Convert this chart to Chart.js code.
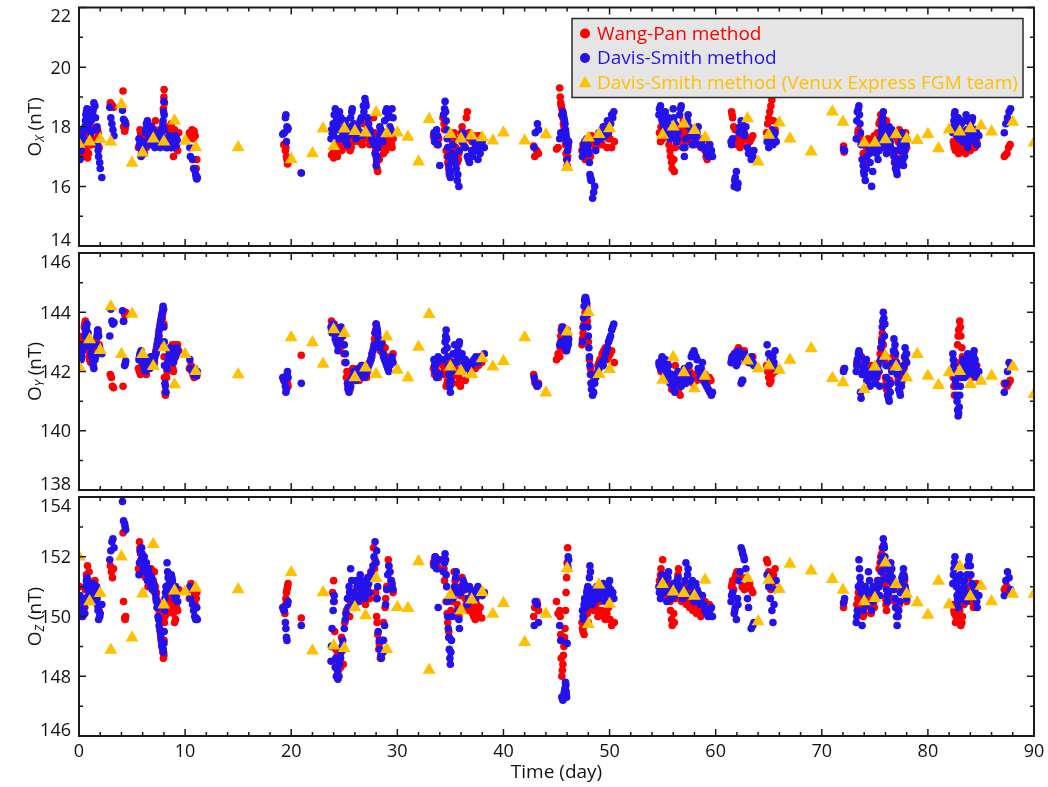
<!DOCTYPE html>
<html>
<head>
<meta charset="utf-8">
<title>Venus Express magnetometer offsets</title>
<script src="https://cdn.jsdelivr.net/npm/chart.js@4.4.1/dist/chart.umd.min.js"></script>
<style>
    html, body { margin: 0; padding: 0; background: #fff; }
    #wrap { position: relative; width: 1048px; height: 787px; }
    #wrap canvas { position: absolute; left: 0; top: 0; }
</style>
</head>
<body>
<div id="wrap">
    <canvas id="oxChart" width="1048" height="787"></canvas>
    <canvas id="oyChart" width="1048" height="787"></canvas>
    <canvas id="ozChart" width="1048" height="787"></canvas>
</div>
<script>
// ================= AXES =================
const xLabels = [0, 10, 20, 30, 40, 50, 60, 70, 80, 90];
const xMinorStep = 2;
const oxTicks = [14, 16, 18, 20, 22];
const oyTicks = [138, 140, 142, 144, 146];
const ozTicks = [146, 148, 150, 152, 154];

const seriesNames = [
    "Wang-Pan method",
    "Davis-Smith method",
    "Davis-Smith method (Venux Express FGM team)",
];
const seriesColors = ["#ff0000", "#2412ee", "#ffc000"];

// ================= WANG-PAN =================
const wpDay = [
    0.05, 0.15, 0.25, 0.35, 0.5, 0.6, 0.7, 0.8, 0.9, 1.0, 1.1, 1.2, 1.5, 1.65, 1.8, 1.9,
    2.95, 3.05, 3.15, 3.25,
    4.15, 4.2, 4.3, 4.35, 4.4,
    5.6, 5.7, 5.8, 5.9, 6.0, 6.1, 6.2, 6.3, 6.4, 6.5, 6.6, 6.7, 6.8, 6.9, 7.0, 7.1, 7.2, 7.3, 7.4, 7.5,
    7.6, 7.7, 7.8, 7.9, 7.95, 8.0, 8.02, 8.05, 8.1, 8.15, 8.3, 8.4, 8.5, 8.6, 8.7, 8.8, 8.9, 9.0, 9.2, 9.4,
    10.4, 10.55, 10.65, 10.75, 10.85, 10.95, 11.05, 11.1,
    19.3, 19.4, 19.45, 19.5, 19.55, 19.6, 19.65, 19.7,
    20.95,
    23.8, 23.9, 24.0, 24.1, 24.2, 24.3, 24.45, 24.6, 24.75, 24.9, 25.05, 25.2, 25.35, 25.5, 25.65, 25.8, 26.0, 26.2, 26.4, 26.6,
    26.8, 27.0, 27.2, 27.4, 27.6, 27.75, 27.85, 27.95, 28.05, 28.15, 28.25, 28.4, 28.55, 28.7, 28.85, 29.0, 29.15, 29.3, 29.45, 29.6,
    33.4, 33.5, 33.6, 33.75, 33.9, 34.3, 34.45, 34.6, 34.75, 34.9, 35.05, 35.2, 35.35, 35.5, 35.65,
    35.8, 35.95, 36.1, 36.25, 36.4, 36.6, 36.75, 36.9, 37.05, 37.2, 37.35, 37.5, 37.65, 37.8, 37.95,
    42.85, 42.95, 43.15, 43.3,
    45.0, 45.15, 45.3, 45.4, 45.5, 45.6, 45.7, 45.8, 45.85, 45.9, 45.95, 46.0, 46.05, 46.1,
    47.4, 47.5, 47.6, 47.7, 47.8, 47.9, 48.0, 48.1, 48.3, 48.5, 48.7, 48.9, 49.1, 49.3, 49.6, 49.9, 50.2, 50.45,
    54.7, 54.85, 55.0, 55.15, 55.3, 55.45, 55.6, 55.75, 55.9, 56.05, 56.2, 56.35, 56.5, 56.65, 56.8,
    56.95, 57.1, 57.25, 57.4, 57.55, 57.7, 57.85, 58.0, 58.2, 58.4, 58.6, 58.8, 59.0, 59.2, 59.4,
    61.5, 61.6, 61.7, 61.85, 62.0, 62.15, 62.3, 62.5, 62.7, 62.9, 63.2, 63.5,
    64.8, 64.9, 65.0, 65.1, 65.2, 65.3, 65.45, 65.6,
    72.05, 72.1,
    73.3, 73.45, 73.6, 73.75, 73.9, 74.05, 74.2, 74.35, 74.5, 74.65, 74.8, 74.95, 75.1, 75.25, 75.4, 75.55, 75.7,
    75.8, 75.9, 76.0, 76.1, 76.25, 76.4, 76.55, 76.7, 76.85, 77.0, 77.15, 77.3, 77.45, 77.6, 77.75, 77.9, 78.0,
    82.4, 82.5, 82.6, 82.7, 82.8, 82.9, 83.0, 83.1, 83.25, 83.4, 83.55, 83.7, 83.85, 84.0, 84.15, 84.3, 84.45, 84.6,
    87.2, 87.3, 87.45, 87.6, 87.75,
    // in-between samples of the long passes
    0.3, 0.55, 0.75, 0.95, 1.3, 1.4, 1.75,
    5.75, 6.05, 6.35, 6.65, 6.95, 7.25, 7.55, 7.85, 8.25, 8.45, 8.65, 8.85, 9.1, 9.3,
    24.05, 24.35, 24.65, 24.95, 25.25, 25.55, 25.9, 26.3, 26.7, 27.1, 27.5, 27.9, 28.0, 28.1, 28.3, 28.6, 28.9, 29.2, 29.5,
    33.65, 34.4, 34.7, 34.85, 35.1, 35.45, 35.75, 36.05, 36.5, 37.1, 37.6,
    45.35, 45.45, 45.55, 45.65, 45.75,
    47.45, 47.65, 47.85, 48.2, 48.6, 49.0, 49.45, 49.75, 50.05,
    54.8, 55.1, 55.4, 55.7, 55.85, 56.1, 56.45, 56.9, 57.35, 57.8, 58.3, 58.7, 59.1, 59.55,
    61.55, 61.9, 62.4, 62.8, 63.35,
    73.4, 73.7, 74.0, 74.3, 74.6, 74.9, 75.2, 75.5, 75.65, 75.85, 76.05, 76.3, 76.6, 76.9, 77.2, 77.5, 77.8,
    82.45, 82.65, 82.85, 83.05, 83.2, 83.5, 83.8, 84.1, 84.4,
];
const wpOx = [
    17.3, 17.1, 17.4, 17.6, 17.8, 17.5, 17.2, 16.95, 17.1, 17.7, 18.0, 17.4, 17.9, 17.6, 17.8, 17.3,
    18.8, 18.75, 18.7, 18.65,
    19.2, 18.0, 17.85, 17.95, 18.05,
    17.3, 17.6, 17.8, 17.5, 17.4, 17.7, 17.9, 17.6, 17.8, 17.5, 17.9, 18.0, 17.7, 17.6, 17.8, 17.9, 18.2, 17.7, 17.5, 17.6,
    17.9, 17.4, 17.7, 18.1, 18.6, 19.0, 19.25, 18.8, 17.6, 17.4, 17.9, 17.5, 17.8, 17.7, 18.1, 17.4, 17.0, 17.9, 17.6, 17.8,
    17.8, 17.7, 17.9, 17.6, 17.85, 17.7, 16.6, 16.9,
    17.4, 17.4, 17.2, 17.3, 17.0, 16.9, 16.75, 16.8,
    16.45,
    17.05, 17.1, 16.95, 17.2, 17.15, 17.4, 17.3, 17.5, 17.2, 17.45, 17.3, 17.6, 17.8, 17.5, 17.3, 17.7, 17.6, 17.9, 17.5, 17.8,
    18.1, 17.6, 17.9, 17.4, 17.7, 18.3, 17.8, 17.2, 16.8, 16.5, 17.0, 17.3, 17.6, 17.1, 17.4, 17.7, 17.5, 17.8, 17.4, 17.6,
    17.7, 17.5, 17.8, 17.4, 17.6, 18.3, 17.9, 17.2, 16.8, 16.4, 16.9, 17.5, 17.8, 17.3, 16.8,
    17.1, 17.6, 18.0, 17.4, 17.7, 18.5, 17.8, 17.6, 17.5, 17.7, 17.4, 17.6, 17.5, 17.7, 17.5,
    17.35, 17.0, 17.2, 17.1,
    17.25, 17.3, 19.3, 18.8, 18.6, 18.3, 18.0, 17.7, 17.4, 17.1, 16.9, 16.7, 17.0, 17.3,
    17.2, 17.4, 17.0, 16.9, 17.3, 17.6, 17.1, 17.4, 17.7, 17.5, 17.3, 17.6, 17.8, 17.4, 18.0, 17.6, 17.3, 17.5,
    17.8, 18.0, 17.6, 17.9, 17.7, 18.1, 17.4, 17.0, 16.6, 16.9, 17.3, 17.7, 18.0, 17.6, 17.8,
    18.2, 17.5, 17.9, 17.7, 17.5, 17.8, 17.6, 17.4, 17.7, 17.5, 17.3, 17.6, 17.2, 16.9, 17.4,
    18.5, 18.3, 18.0, 17.9, 17.4, 17.6, 17.3, 17.5, 17.8, 17.6, 17.5, 17.7,
    17.8, 18.1, 18.3, 18.5, 18.7, 18.9, 18.2, 17.9,
    17.35, 17.15,
    17.6, 17.9, 17.7, 17.5, 17.1, 16.8, 17.3, 17.6, 17.4, 17.2, 17.5, 17.7, 17.4, 17.8, 18.1, 18.4, 17.9,
    17.5, 17.3, 17.8, 18.2, 17.6, 17.4, 17.9, 17.1, 16.8, 17.2, 17.6, 17.9, 17.4, 17.0, 17.5, 17.8, 17.3,
    17.5, 17.3, 17.2, 17.6, 17.4, 17.1, 17.3, 17.5, 17.2, 17.4, 17.1, 17.3, 17.5, 17.2, 17.4, 17.6, 17.3, 17.5,
    17.0, 17.05, 17.1, 17.3, 17.4,
    // in-between samples of the long passes
    17.0, 17.3, 17.6, 17.9, 17.6, 17.5, 17.9,
    17.9, 17.6, 17.3, 17.5, 17.9, 17.4, 17.8, 17.9, 17.6, 18.0, 17.3, 17.6, 17.4, 17.2,
    17.3, 17.0, 17.35, 17.6, 17.4, 17.2, 17.5, 17.7, 17.4, 17.8, 17.5, 17.6, 17.0, 16.6, 16.9, 17.4, 17.2, 17.6, 17.3,
    17.6, 18.1, 17.0, 16.6, 17.2, 17.6, 16.9, 17.8, 18.3, 17.6, 17.7,
    19.0, 18.7, 18.4, 18.1, 17.8,
    17.0, 17.2, 17.5, 17.0, 17.6, 17.4, 17.7, 17.3, 17.6,
    17.5, 17.8, 17.9, 17.2, 16.8, 16.5, 17.5, 17.9, 18.0, 17.7, 17.6, 17.4, 17.0, 17.1,
    18.4, 17.6, 17.4, 17.7, 17.6,
    17.8, 17.6, 17.0, 17.5, 17.3, 17.6, 17.6, 18.2, 18.0, 17.4, 18.0, 17.5, 17.8, 17.0, 17.5, 17.2, 17.6,
    17.4, 17.5, 17.2, 17.4, 17.3, 17.2, 17.4, 17.3, 17.4,
];
const wpOy = [
    142.7, 142.9, 142.6, 143.2, 143.5, 143.7, 143.4, 143.0, 142.7, 142.4, 142.3, 142.6, 142.5, 143.1, 143.4, 142.9,
    141.9, 141.8, 141.5, 141.45,
    141.5, 143.7, 143.95, 143.9, 144.0,
    142.1, 142.0, 141.9, 142.2, 142.0, 142.1, 142.3, 142.0, 142.2, 142.1, 142.3, 142.2, 142.4, 142.2, 142.5, 142.3, 142.6, 142.8, 143.0, 143.3,
    143.5, 143.7, 143.9, 144.0, 144.1, 143.6, 142.5, 141.8, 141.3, 141.2, 142.0, 142.3, 142.1, 142.5, 142.2, 142.9, 142.0, 142.9, 142.6, 142.7,
    142.1, 142.2, 142.0, 141.9, 141.8, 142.0, 141.9, 141.85,
    141.7, 141.8, 141.6, 141.5, 141.7, 141.5, 141.6, 141.5,
    142.55,
    143.7, 143.6, 143.4, 143.3, 143.5, 143.2, 143.0, 142.8, 143.2, 142.9, 142.3, 141.8, 141.5, 141.6, 141.9, 142.1, 141.8, 142.0, 141.7, 142.2,
    141.9, 142.1, 142.0, 142.3, 142.5, 142.8, 143.1, 143.4, 143.5, 143.2, 142.9, 142.7, 143.0, 142.6, 142.8, 142.4, 142.2, 142.5, 142.3, 142.6,
    142.1, 141.9, 142.3, 142.0, 141.8, 142.2, 141.9, 141.5, 141.7, 142.4, 142.1, 141.6, 141.9, 142.3, 142.5,
    141.8, 141.5, 142.0, 142.2, 141.7, 142.3, 142.1, 142.0, 142.3, 142.2, 142.1, 142.4, 142.2, 142.5, 142.3,
    141.9, 141.7, 141.5, 141.6,
    142.4, 142.6, 142.5, 143.2, 143.5, 143.1, 142.9, 142.7, 143.3, 143.0, 142.8, 143.4, 143.2, 143.0,
    142.9, 143.3, 143.6, 144.0, 144.3, 143.7, 143.0, 142.4, 141.9, 141.7, 141.9, 142.2, 142.4, 142.6, 142.8, 142.5, 142.7, 142.3,
    142.2, 142.0, 142.4, 141.9, 142.1, 142.3, 141.8, 141.6, 141.5, 141.9, 142.2, 141.7, 141.4, 141.2, 141.6,
    141.9, 142.1, 141.8, 141.7, 142.0, 141.8, 141.6, 141.9, 141.7, 142.0, 141.8, 141.7, 141.9, 141.6, 141.8,
    142.3, 142.4, 142.5, 142.6, 142.7, 142.8, 142.6, 142.5, 142.7, 142.4, 142.3, 142.5,
    142.2, 142.0, 141.8, 141.6, 141.7, 141.9, 142.1, 142.0,
    142.05, 142.1,
    142.3, 142.2, 142.4, 142.5, 142.1, 141.9, 142.0, 141.7, 141.9, 142.2, 141.8, 142.0, 141.6, 141.9, 142.3, 142.8, 143.3,
    142.9, 142.4, 141.8, 141.4, 141.3, 141.7, 142.1, 142.5, 142.7, 142.3, 141.9, 141.6, 141.5, 141.8, 142.1, 142.4, 142.6,
    141.8, 141.2, 141.6, 142.3, 142.9, 143.4, 143.7, 143.2, 142.5, 142.0, 141.9, 142.2, 142.4, 142.1, 141.8, 142.3, 142.0, 142.2,
    141.6, 141.55, 141.5, 141.6, 141.7,
    // in-between samples of the long passes
    143.0, 143.6, 143.3, 142.5, 142.4, 142.8, 143.3,
    142.0, 142.1, 141.9, 142.1, 142.4, 142.7, 143.2, 143.8, 141.8, 142.2, 142.4, 142.1, 142.8, 142.9,
    143.6, 143.4, 143.1, 142.6, 142.0, 141.4, 141.7, 141.9, 142.0, 141.8, 142.4, 143.3, 143.6, 143.4, 143.0, 142.9, 142.5, 142.3, 142.4,
    142.2, 142.0, 141.6, 142.0, 141.8, 142.1, 141.6, 142.4, 142.2, 142.1, 142.3,
    142.8, 143.4, 143.3, 143.0, 142.8,
    143.1, 143.8, 144.2, 142.1, 141.8, 142.3, 142.7, 142.4, 142.6,
    142.3, 142.2, 142.0, 141.7, 141.4, 141.7, 141.5, 141.8, 141.9, 141.7, 141.9, 141.8, 141.7, 141.7,
    142.5, 142.6, 142.7, 142.5, 142.4,
    142.4, 142.3, 142.0, 141.8, 142.0, 141.9, 141.8, 142.6, 143.1, 142.6, 141.6, 141.5, 142.3, 142.5, 141.7, 141.6, 142.2,
    141.5, 142.0, 143.2, 143.5, 142.8, 142.0, 142.3, 142.0, 142.1,
];
const wpOz = [
    151.0, 150.4, 150.2, 150.0, 150.6, 150.9, 151.4, 151.7, 151.2, 150.8, 150.5, 150.9, 151.2, 150.7, 150.3, 150.2,
    151.7, 151.5, 151.3, 151.6,
    152.8, 150.5, 149.95, 149.9, 150.0,
    151.6, 152.5, 152.1, 151.8, 151.4, 152.0, 151.7, 151.3, 151.5, 151.0, 151.3, 151.1, 151.6, 150.9, 151.2, 151.5, 151.0, 150.8, 150.5, 150.0,
    149.6, 149.3, 149.0, 148.8, 148.6, 148.7, 149.2, 149.8, 150.0, 150.4, 150.6, 150.2, 150.8, 151.0, 150.4, 150.7, 150.1, 149.8, 150.3, 150.9,
    150.6, 151.1, 150.9, 151.0, 150.7, 150.4, 150.6, 150.8,
    150.2, 150.1, 150.4, 150.6, 150.8, 150.9, 151.0, 151.1,
    149.95,
    149.0, 150.8, 151.2, 149.5, 148.9, 148.5, 148.2, 148.7, 149.3, 148.4, 149.8, 150.2, 150.6, 150.0, 150.4, 150.7, 150.3, 150.9, 150.5, 151.2,
    150.8, 150.4, 151.0, 150.6, 151.3, 152.3, 151.6, 150.8, 150.0, 149.4, 148.9, 148.6, 149.2, 149.8, 150.3, 151.0, 151.9, 151.5, 151.2, 150.8,
    151.8, 151.9, 152.0, 151.7, 151.6, 151.9, 151.2, 150.5, 149.8, 149.3, 150.2, 150.8, 151.5, 151.0, 150.4,
    150.0, 150.7, 151.3, 150.9, 150.6, 150.2, 150.5, 150.9, 150.3, 150.0, 149.9, 150.4, 150.1, 150.3, 149.95,
    150.0, 150.3, 150.5, 150.2,
    150.5, 150.1, 150.2, 149.4, 148.0, 148.4, 149.0, 149.6, 150.2, 150.8, 151.3, 151.8, 152.3, 151.6,
    149.8, 149.5, 149.4, 150.0, 150.4, 150.1, 149.8, 150.3, 150.6, 150.2, 150.4, 150.0, 150.5, 150.2, 149.9, 150.3, 149.7, 149.8,
    151.2, 151.6, 151.9, 151.0, 150.6, 151.4, 150.8, 150.2, 149.7, 150.1, 150.6, 151.2, 151.6, 150.9, 150.5,
    150.7, 151.0, 150.4, 150.8, 150.3, 150.6, 150.2, 150.5, 150.1, 150.4, 150.0, 150.3, 150.5, 150.2, 150.4,
    151.0, 151.2, 150.9, 151.3, 151.5, 151.4, 151.2, 151.0, 150.9, 151.3, 151.1, 150.8,
    151.9, 151.8, 151.5, 151.2, 150.9, 151.1, 151.4, 151.6,
    150.3, 150.5,
    150.4, 150.8, 150.2, 150.6, 150.0, 150.3, 150.7, 150.4, 150.5, 150.1, 150.6, 150.3, 150.8, 151.2, 151.6, 152.0, 152.3,
    151.7, 151.1, 150.6, 150.2, 150.5, 150.9, 151.3, 151.0, 150.6, 150.3, 150.0, 150.4, 150.8, 151.1, 151.4, 150.9, 150.5,
    150.4, 150.1, 149.8, 150.3, 150.6, 150.8, 150.2, 149.7, 150.0, 150.4, 151.0, 150.6, 151.3, 150.5, 150.9, 150.3, 150.7, 151.1,
    150.9, 150.95, 151.0, 150.9, 150.8,
    // in-between samples of the long passes
    150.5, 150.3, 151.1, 151.5, 150.6, 151.0, 150.8,
    152.3, 151.9, 151.6, 151.5, 151.2, 150.7, 150.2, 149.1, 150.1, 150.5, 150.7, 150.3, 149.9, 150.2,
    150.5, 148.7, 148.3, 148.9, 150.0, 150.5, 150.8, 150.6, 151.0, 150.7, 151.5, 151.9, 150.6, 149.8, 149.1, 148.8, 150.6, 151.7, 151.0,
    151.9, 151.6, 150.1, 149.5, 150.5, 151.2, 150.3, 151.0, 150.4, 150.1, 150.2,
    150.0, 148.6, 148.2, 148.7, 149.3,
    149.6, 149.7, 150.2, 150.5, 150.3, 150.2, 150.0, 150.1, 149.9,
    151.4, 151.2, 151.1, 150.5, 149.9, 149.8, 151.4, 150.6, 150.6, 150.4, 150.3, 150.2, 150.4, 150.3,
    151.1, 151.4, 151.3, 151.0, 150.9,
    150.6, 150.4, 150.1, 150.6, 150.3, 150.5, 151.0, 151.8, 152.1, 151.4, 150.4, 150.7, 151.1, 150.5, 150.2, 151.0, 151.2,
    150.2, 150.0, 150.7, 150.0, 149.8, 150.7, 150.9, 150.7, 150.9,
];

// ================= DAVIS-SMITH =================
const dsDay = [
    0.1, 0.2, 0.3, 0.45, 0.55, 0.65, 0.75, 0.85, 1.0, 1.15, 1.3, 1.4, 1.55, 1.65, 1.75, 1.85, 2.0, 2.15,
    2.9, 3.0, 3.1, 3.2, 3.3,
    4.1, 4.2, 4.3, 4.35, 4.4,
    5.65, 5.75, 5.85, 5.95, 6.05, 6.15, 6.25, 6.35, 6.45, 6.55, 6.65, 6.75, 6.85, 6.95, 7.05, 7.15, 7.25, 7.35, 7.45, 7.55,
    7.65, 7.75, 7.85, 7.92, 7.97, 8.0, 8.03, 8.06, 8.1, 8.2, 8.3, 8.4, 8.5, 8.6, 8.7, 8.8, 8.9, 9.0, 9.1, 9.2,
    10.45, 10.5, 10.7, 10.8, 10.9, 11.0, 11.05, 11.1, 11.15,
    19.2, 19.35, 19.45, 19.5, 19.55, 19.6, 19.65, 19.7,
    20.95,
    23.75, 23.85, 23.95, 24.05, 24.15, 24.25, 24.4, 24.55, 24.7, 24.85, 25.0, 25.15, 25.3, 25.45, 25.6, 25.75, 25.9, 26.1, 26.3, 26.5,
    26.7, 26.85, 26.95, 27.05, 27.2, 27.4, 27.6, 27.8, 27.9, 28.0, 28.1, 28.2, 28.35, 28.5, 28.65, 28.8, 29.0, 29.2, 29.4, 29.6,
    33.45, 33.55, 33.7, 33.85, 34.0, 34.35, 34.5, 34.6, 34.7, 34.8, 34.9, 35.0, 35.1, 35.25, 35.4,
    35.55, 35.7, 35.85, 36.0, 36.2, 36.4, 36.6, 36.8, 37.0, 37.2, 37.4, 37.6, 37.8, 38.0, 38.2,
    42.9, 43.0, 43.2, 43.3,
    45.3, 45.4, 45.6, 45.7, 45.8, 45.85, 45.9, 45.95, 46.0, 46.05, 46.1, 46.15,
    47.45, 47.55, 47.65, 47.75, 47.85, 47.95, 48.05, 48.15, 48.25, 48.4, 48.6, 48.8, 49.0, 49.2, 49.4, 49.6, 49.8, 50.0, 50.2, 50.4,
    54.65, 54.8, 54.95, 55.1, 55.25, 55.4, 55.55, 55.7, 55.85, 56.0, 56.15, 56.3, 56.45, 56.6, 56.75,
    56.9, 57.05, 57.2, 57.35, 57.5, 57.65, 57.8, 57.95, 58.15, 58.35, 58.55, 58.75, 59.0, 59.3, 59.6,
    61.45, 61.6, 61.75, 61.85, 61.95, 62.05, 62.2, 62.4, 62.55, 62.7, 62.85, 63.1, 63.35, 63.6,
    64.85, 65.0, 65.15, 65.3, 65.4, 65.5, 65.6, 65.7,
    72.05, 72.15,
    73.25, 73.35, 73.5, 73.6, 73.7, 73.8, 73.95, 74.1, 74.25, 74.4, 74.55, 74.7, 74.85, 75.0, 75.15, 75.3, 75.45, 75.6,
    75.7, 75.8, 75.9, 76.0, 76.1, 76.2, 76.35, 76.5, 76.65, 76.8, 76.95, 77.1, 77.25, 77.4, 77.55, 77.7, 77.85, 78.0,
    82.35, 82.45, 82.55, 82.65, 82.75, 82.85, 82.95, 83.05, 83.15, 83.3, 83.45, 83.6, 83.75, 83.9, 84.05, 84.2, 84.35, 84.5, 84.65, 84.8,
    87.2, 87.35, 87.5, 87.65, 87.8,
    // in-between samples of the long passes
    0.25, 0.4, 0.6, 0.7, 0.9, 1.1, 1.2, 1.35, 1.5, 1.7, 1.8, 1.95,
    5.7, 5.9, 6.1, 6.3, 6.5, 6.7, 6.9, 7.1, 7.3, 7.5, 7.7, 7.8, 7.9, 8.15, 8.35, 8.55, 8.75, 8.95, 9.15, 9.3,
    23.8, 24.0, 24.2, 24.35, 24.5, 24.65, 24.8, 25.1, 25.35, 25.5, 25.7, 26.0, 26.2, 26.4, 26.6,
    26.8, 27.0, 27.3, 27.5, 27.7, 28.05, 28.15, 28.3, 28.45, 28.7, 28.9, 29.1, 29.3, 29.5,
    33.5, 33.8, 34.45, 34.55, 34.65, 34.75, 34.85, 34.95, 35.05, 35.2, 35.5, 35.65, 35.8, 36.1, 36.3, 36.7, 37.1, 37.5, 37.9,
    45.5, 45.65, 45.75, 45.88, 45.92,
    47.5, 47.6, 47.7, 47.8, 47.9, 48.0, 48.1, 48.2, 48.3, 48.5, 48.7, 48.9, 49.1, 49.3, 49.5, 49.7, 49.9, 50.1, 50.3,
    54.7, 54.9, 55.2, 55.5, 55.8, 56.05, 56.4, 56.7, 57.1, 57.4, 57.7, 58.0, 58.25, 58.45, 58.65, 58.9, 59.15, 59.45, 59.7,
    61.5, 61.8, 62.1, 62.3, 62.5, 62.65, 63.0, 63.5,
    73.3, 73.45, 73.55, 73.65, 73.9, 74.0, 74.2, 74.5, 74.8, 75.1, 75.4, 75.55, 75.65, 75.75, 75.85,
    75.95, 76.05, 76.15, 76.3, 76.45, 76.6, 76.75, 76.9, 77.05, 77.2, 77.35, 77.5, 77.65, 77.8, 77.95,
    82.4, 82.5, 82.6, 82.7, 82.8, 82.9, 83.0, 83.1, 83.25, 83.4, 83.55, 83.7, 83.85, 84.0, 84.15, 84.3, 84.45, 84.6,
];
const dsOx = [
    16.9, 17.2, 17.7, 17.6, 18.0, 18.4, 18.6, 18.3, 17.9, 18.2, 18.5, 18.8, 18.3, 17.9, 17.4, 17.0, 16.6, 16.3,
    18.65, 18.3, 18.1, 17.9, 17.7,
    18.55, 18.25, 18.2, 18.15, 18.1,
    17.6, 17.3, 17.0, 17.2, 17.5, 17.1, 17.8, 18.1, 18.2, 17.9, 17.6, 17.4, 18.0, 17.7, 17.5, 17.3, 17.6, 17.8, 17.4, 17.5,
    17.3, 17.7, 17.9, 18.2, 18.5, 18.85, 18.4, 17.9, 17.5, 17.3, 17.6, 17.4, 17.7, 17.5, 17.3, 17.6, 17.4, 17.5, 17.7, 17.4,
    17.3, 17.0, 16.9, 16.6, 16.55, 16.4, 16.3, 16.25, 16.3,
    17.75, 17.8, 18.3, 18.4, 17.5, 18.0, 17.9, 17.95,
    16.45,
    17.6, 17.8, 18.1, 18.4, 18.6, 18.2, 17.9, 18.5, 18.3, 17.7, 18.0, 17.5, 17.4, 17.8, 18.3, 18.6, 18.1, 17.6, 17.9, 18.2,
    17.7, 18.5, 18.95, 18.7, 18.3, 17.9, 17.6, 17.4, 17.1, 16.7, 17.0, 17.5, 18.0, 17.7, 17.5, 18.2, 18.6, 18.4, 17.9, 18.3,
    17.8, 17.5, 17.9, 17.4, 16.7, 18.4, 18.85, 18.2, 17.6, 17.0, 16.5, 16.3, 16.8, 17.4, 17.0,
    16.6, 16.4, 17.2, 17.6, 17.8, 17.3, 17.0, 16.8, 17.2, 17.5, 17.4, 16.9, 17.1, 17.5, 17.3,
    17.3, 17.8, 18.1, 17.9,
    17.6, 17.8, 18.5, 18.3, 18.1, 17.9, 17.7, 17.6, 16.9, 17.2, 17.4, 17.5,
    17.0, 17.3, 17.5, 17.2, 17.6, 17.4, 17.1, 16.4, 16.2, 15.6, 16.0, 17.5, 17.8, 17.6, 18.0, 17.7, 18.2, 17.9, 18.4, 18.5,
    18.4, 18.7, 18.2, 18.0, 18.5, 17.8, 18.3, 17.6, 17.9, 18.6, 18.1, 17.5, 17.8, 18.4, 18.7,
    17.3, 17.0, 17.6, 18.2, 18.0, 17.7, 17.4, 17.9, 17.6, 18.0, 17.5, 17.3, 17.6, 17.0, 17.2,
    17.5, 17.6, 16.0, 16.3, 16.5, 15.95, 17.8, 18.2, 17.9, 17.7, 18.0, 17.1, 16.9, 17.2,
    17.5, 17.3, 17.6, 17.9, 17.4, 17.7, 17.8, 17.5,
    17.25, 17.2,
    17.6, 18.5, 18.7, 18.1, 17.4, 16.9, 16.5, 16.2, 17.0, 17.3, 16.8, 16.0, 17.2, 17.5, 17.1, 16.9, 17.4, 17.8,
    18.2, 18.5, 17.9, 17.5, 17.1, 17.6, 18.0, 17.3, 17.7, 17.0, 16.6, 16.4, 16.9, 17.4, 17.8, 16.7, 17.2, 17.6,
    17.8, 18.2, 18.5, 18.0, 17.7, 18.3, 17.6, 17.9, 18.1, 17.5, 17.8, 18.4, 17.3, 17.7, 18.0, 18.3, 17.6, 17.9, 17.4, 17.7,
    17.8, 18.1, 18.3, 18.5, 18.6,
    // in-between samples of the long passes
    17.4, 17.9, 18.2, 18.5, 18.1, 17.8, 18.4, 18.6, 18.7, 18.0, 17.2, 16.8,
    17.4, 17.1, 17.3, 17.9, 18.1, 17.5, 17.9, 17.6, 17.4, 17.7, 17.6, 17.5, 18.0, 17.5, 17.3, 17.6, 17.4, 17.3, 17.6, 17.5,
    17.9, 17.7, 18.4, 18.0, 17.6, 18.2, 17.9, 18.2, 17.7, 18.0, 18.5, 17.8, 18.0, 17.7, 18.3,
    18.7, 18.8, 18.1, 17.8, 17.5, 16.9, 17.3, 17.7, 17.9, 17.8, 18.5, 18.3, 18.0, 18.6,
    17.6, 17.7, 18.6, 18.5, 17.9, 17.3, 16.7, 16.4, 16.5, 17.1, 16.8, 16.2, 16.0, 17.5, 17.6, 16.9, 17.0, 17.2, 17.3,
    18.4, 18.4, 18.2, 17.8, 17.5,
    17.2, 17.4, 17.3, 17.5, 17.3, 17.2, 16.8, 16.3, 16.2, 15.8, 17.2, 17.6, 17.7, 17.9, 17.8, 18.0, 17.8, 18.1, 18.3,
    18.6, 18.3, 18.4, 18.1, 17.7, 18.3, 17.6, 18.6, 17.3, 18.4, 17.9, 17.7, 17.8, 17.4, 17.5, 17.3, 17.1, 17.4, 17.0,
    17.4, 16.2, 16.1, 18.0, 18.1, 17.8, 17.3, 17.0,
    18.2, 18.6, 18.4, 17.8, 16.7, 16.4, 16.6, 17.1, 16.5, 17.4, 17.2, 17.6, 18.0, 18.3, 18.0,
    17.7, 17.3, 17.4, 17.8, 17.5, 17.9, 17.2, 16.8, 16.5, 16.7, 17.2, 17.6, 16.9, 17.0, 17.4,
    18.0, 18.4, 18.3, 17.9, 17.8, 18.1, 17.8, 18.2, 17.8, 17.6, 18.2, 17.9, 17.5, 18.1, 18.2, 17.8, 17.5, 17.8,
];
const dsOy = [
    142.5, 142.4, 142.7, 142.9, 143.2, 143.5, 143.6, 143.3, 142.9, 142.6, 142.3, 142.1, 142.5, 142.9, 143.4, 143.2, 142.7, 142.6,
    143.2, 144.1, 143.7, 143.6, 143.65,
    144.05, 143.7, 142.2, 142.25, 142.35,
    142.4, 142.6, 142.7, 142.5, 142.3, 142.1, 142.0, 142.2, 142.4, 142.3, 142.1, 142.5, 142.3, 142.4, 142.2, 142.5, 142.6, 142.9, 143.1, 143.4,
    143.6, 143.8, 144.0, 144.2, 144.1, 143.5, 143.0, 142.2, 141.6, 141.3, 142.1, 142.5, 142.7, 142.8, 142.4, 142.6, 142.3, 142.7, 142.5, 142.8,
    142.4, 142.1, 142.0, 141.9, 142.1, 142.0, 141.85, 141.9, 142.0,
    141.8, 141.7, 141.5, 141.3, 141.4, 141.9, 142.0, 141.8,
    141.6,
    143.5, 143.3, 143.6, 143.4, 143.1, 143.0, 142.7, 143.3, 143.5, 143.2, 142.9, 142.3, 141.6, 141.3, 141.5, 141.8, 142.0, 141.7, 142.1, 141.9,
    142.2, 141.8, 142.0, 141.9, 142.1, 142.3, 142.6, 142.9, 143.3, 143.6, 143.4, 143.1, 142.8, 143.0, 142.6, 142.4, 142.2, 142.0, 142.4, 142.3,
    142.4, 142.0, 141.8, 142.5, 141.9, 142.4, 143.0, 143.4, 142.8, 142.2, 141.6, 141.3, 142.0, 142.6, 142.9,
    142.3, 142.7, 143.0, 142.5, 142.2, 142.4, 142.1, 142.3, 142.2, 142.4, 142.5, 142.3, 142.4, 142.5, 142.6,
    141.8, 141.6, 141.5, 141.55,
    142.9, 143.0, 143.5, 143.3, 142.8, 142.9, 143.1, 142.7, 142.8, 143.0, 142.9, 143.1,
    143.0, 143.8, 144.4, 144.5, 144.3, 143.5, 142.8, 142.2, 141.6, 141.2, 141.6, 141.9, 142.1, 142.3, 142.2, 142.6, 142.8, 143.1, 143.4, 143.6,
    142.3, 142.1, 142.5, 142.0, 142.4, 141.8, 142.2, 141.6, 141.9, 141.5, 141.3, 141.7, 142.0, 141.8, 141.5,
    141.9, 142.1, 141.6, 141.8, 142.2, 141.7, 142.6, 142.7, 142.5, 142.1, 141.8, 142.3, 141.6, 141.4, 141.2,
    142.3, 142.5, 142.6, 142.4, 142.2, 142.5, 142.7, 141.6, 141.7, 142.6, 142.4, 142.3, 142.5, 142.2,
    142.9, 142.6, 142.4, 142.2, 142.5, 142.3, 142.7, 142.1,
    142.0, 142.1,
    142.0, 142.4, 142.7, 142.5, 141.1, 141.9, 142.2, 142.3, 141.7, 142.0, 141.5, 141.8, 142.1, 141.6, 141.9, 142.2, 141.5, 142.8,
    143.5, 144.0, 143.2, 142.5, 141.8, 141.2, 141.0, 141.6, 142.3, 143.1, 142.6, 141.9, 141.4, 141.2, 141.7, 142.2, 142.8, 142.3,
    142.6, 142.2, 141.9, 141.5, 141.0, 140.5, 140.8, 141.5, 142.0, 142.4, 141.8, 142.1, 142.6, 142.3, 141.9, 142.5, 142.7, 142.2, 141.8, 142.0,
    141.3, 141.6, 142.0, 142.3, 142.2,
    // in-between samples of the long passes
    142.5, 142.8, 143.4, 143.5, 143.1, 142.8, 142.5, 142.2, 142.4, 143.2, 143.3, 142.8,
    142.5, 142.6, 142.2, 142.1, 142.3, 142.3, 142.5, 142.4, 142.7, 143.2, 143.7, 143.9, 144.1, 141.5, 142.3, 142.6, 142.5, 142.4, 142.6, 142.7,
    143.4, 143.5, 143.2, 142.9, 143.1, 143.4, 143.3, 142.6, 141.4, 141.5, 141.7, 141.9, 141.8, 142.0, 141.8,
    142.0, 142.1, 142.2, 142.4, 142.7, 143.5, 143.3, 143.0, 142.9, 142.5, 142.3, 142.1, 142.2, 142.5,
    142.2, 142.3, 142.7, 143.2, 143.1, 142.5, 141.9, 141.5, 141.7, 142.3, 142.6, 142.5, 142.9, 142.6, 142.3, 142.2, 142.3, 142.4, 142.5,
    143.4, 143.4, 143.0, 143.0, 142.8,
    143.5, 144.2, 144.5, 144.4, 143.9, 143.2, 142.5, 141.9, 141.4, 141.3, 141.8, 142.0, 142.2, 142.2, 142.4, 142.7, 143.0, 143.2, 143.5,
    142.2, 142.4, 142.2, 142.0, 141.7, 141.4, 141.9, 141.6, 141.8, 141.9, 142.5, 142.6, 142.4, 142.0, 142.1, 141.9, 141.5, 141.3, 141.3,
    142.4, 142.5, 142.3, 142.6, 141.7, 142.5, 142.4, 142.3,
    142.2, 142.6, 142.6, 141.3, 142.0, 142.1, 142.4, 141.9, 141.9, 141.8, 142.0, 142.4, 143.0, 143.7, 143.8,
    143.6, 142.2, 141.5, 141.1, 141.3, 142.0, 142.7, 142.9, 142.3, 141.6, 141.3, 141.5, 142.0, 142.5, 142.6,
    142.4, 142.0, 141.7, 141.2, 140.7, 140.6, 141.2, 141.8, 142.2, 142.2, 142.0, 142.4, 142.5, 142.1, 142.2, 142.6, 142.4, 142.0,
];
const dsOz = [
    150.7, 150.2, 150.0, 150.3, 150.1, 151.0, 151.3, 150.9, 150.6, 150.8, 151.1, 150.5, 150.9, 151.0, 150.4, 149.9, 150.1, 150.4,
    151.9, 152.2, 152.5, 152.6, 152.3,
    153.85, 153.2, 153.1, 153.0, 152.9,
    151.4, 152.2, 151.9, 152.1, 151.6, 152.0, 151.5, 151.8, 151.2, 151.6, 151.4, 151.0, 151.3, 150.9, 151.1, 150.8, 150.6, 150.3, 150.0, 149.7,
    149.5, 149.2, 149.0, 148.9, 148.8, 149.1, 149.5, 150.2, 150.6, 151.0, 151.8, 151.3, 151.1, 150.9, 151.4, 151.2, 150.8, 150.6, 151.0, 150.7,
    151.0, 150.6, 150.4, 150.2, 150.0, 149.9, 149.95, 150.3, 149.9,
    150.3, 150.2, 149.8, 149.6, 149.3, 149.2, 150.4, 150.5,
    149.7,
    148.5, 149.6, 150.2, 150.7, 148.3, 148.0, 147.9, 148.4, 148.8, 149.2, 149.6, 150.1, 150.6, 151.0, 151.6, 150.4, 150.8, 151.2, 150.5, 151.4,
    150.9, 151.1, 150.6, 151.0, 151.3, 150.8, 151.5, 152.0, 152.5, 151.8, 150.6, 149.5, 148.9, 148.6, 148.8, 149.7, 150.9, 151.7, 151.2, 150.9,
    151.7, 152.0, 151.6, 150.3, 151.9, 151.5, 152.1, 151.4, 150.5, 149.6, 148.9, 148.4, 149.2, 150.6, 151.0,
    151.5, 150.2, 149.6, 150.8, 151.2, 150.9, 150.4, 151.0, 150.7, 150.8, 150.6, 151.0, 150.9, 150.7, 150.8,
    149.7, 150.5, 150.4, 149.8,
    149.7, 149.2, 147.2, 147.4, 147.6, 147.8, 147.5, 147.3, 149.1, 151.7, 152.0, 151.9,
    150.2, 149.9, 150.6, 150.3, 150.8, 151.0, 150.5, 151.7, 150.9, 150.4, 150.7, 151.0, 150.6, 150.8, 151.1, 150.5, 150.9, 151.2, 150.7, 150.6,
    151.0, 150.6, 151.4, 150.8, 151.2, 150.5, 151.5, 150.9, 150.6, 151.1, 150.7, 150.9, 151.3, 150.8, 151.0,
    150.6, 150.9, 151.8, 151.4, 150.7, 151.0, 151.2, 150.5, 151.1, 150.8, 150.4, 150.7, 150.2, 150.0, 150.3,
    150.5, 150.8, 150.1, 150.3, 149.9, 150.6, 151.2, 152.3, 152.1, 151.9, 151.6, 150.3, 149.6, 149.8,
    151.4, 151.0, 150.6, 150.2, 149.8, 150.4, 150.9, 151.2,
    150.45, 150.6,
    149.8, 150.2, 151.9, 151.3, 150.8, 149.7, 150.5, 151.0, 150.4, 151.5, 150.8, 150.2, 151.0, 150.6, 150.9, 151.2, 150.7, 151.5,
    152.0, 152.6, 152.3, 151.6, 150.9, 150.5, 151.2, 151.8, 151.3, 150.9, 150.3, 149.7, 150.2, 150.8, 151.3, 151.6, 151.0, 150.6,
    151.1, 151.6, 152.0, 151.3, 150.7, 150.3, 150.9, 151.4, 150.6, 150.9, 151.2, 150.5, 151.7, 152.0, 151.4, 150.8, 151.0, 150.6, 150.3, 150.7,
    150.7, 151.2, 151.5, 151.3, 150.9,
    // in-between samples of the long passes
    150.1, 150.5, 150.6, 151.2, 150.7, 150.9, 151.0, 150.7, 150.8, 150.6, 150.2, 150.0,
    151.8, 152.3, 151.7, 151.6, 151.4, 151.2, 151.0, 150.9, 150.5, 149.9, 149.4, 149.1, 148.9, 150.8, 151.5, 151.2, 151.3, 150.9, 150.8, 150.5,
    149.0, 150.5, 148.6, 148.2, 148.0, 148.6, 149.0, 149.9, 150.3, 150.8, 151.2, 150.6, 151.0, 150.7, 151.2,
    150.8, 150.9, 151.1, 151.4, 151.7, 152.2, 151.0, 149.2, 148.7, 149.2, 150.4, 151.4, 151.5, 151.1,
    151.8, 151.9, 151.8, 151.9, 151.0, 150.0, 149.3, 148.6, 148.8, 150.0, 151.3, 150.8, 149.9, 151.0, 151.1, 150.6, 150.8, 150.9, 150.8,
    147.3, 147.3, 147.5, 147.7, 147.4,
    150.0, 150.4, 150.5, 150.6, 150.9, 150.7, 151.3, 151.5, 150.7, 150.5, 150.8, 150.8, 150.7, 150.9, 150.8, 150.7, 151.0, 150.9, 150.8,
    150.8, 151.2, 151.0, 151.3, 150.7, 150.9, 151.1, 150.9, 151.2, 151.6, 151.1, 150.8, 150.9, 150.6, 150.5, 150.4, 150.1, 150.2, 150.0,
    150.7, 150.2, 150.4, 151.5, 152.2, 152.0, 150.6, 149.7,
    150.0, 151.0, 151.6, 151.1, 150.2, 150.7, 150.9, 151.2, 150.5, 150.8, 151.0, 151.2, 151.8, 152.3, 152.4,
    152.0, 151.3, 150.7, 150.8, 151.5, 151.6, 151.1, 150.6, 150.0, 150.0, 150.5, 151.1, 151.4, 151.3, 150.8,
    151.4, 151.8, 151.7, 151.0, 150.5, 150.6, 151.2, 151.2, 150.8, 151.0, 150.8, 151.4, 151.9, 151.7, 151.1, 150.9, 150.8, 150.5,
];

// ================= VENUS EXPRESS FGM TEAM =================
const vexDay = [
    0, 1, 2, 3, 4, 5, 6, 7, 8, 9, 10, 11, 15, 20, 22, 23, 24, 25, 26, 27, 28, 29, 30, 31, 32, 33,
    35, 36, 37, 38, 39, 40, 42, 44, 46, 48, 49, 50, 55, 56, 57, 58, 59, 63, 64, 65, 66, 67, 69, 71, 72,
    74, 75, 76, 77, 78, 79, 80, 81, 82, 83, 84, 85, 86, 88, 90,
];
const vexOx = [
    17.42, 17.5, 17.58, 17.5, 18.75, 16.78, 17.13, 17.6, 17.5, 18.2, 17.52, 17.3, 17.3, 16.9,
    17.1, 17.93, 17.35, 17.93, 17.85, 17.8, 18.48, 17.77, 17.8, 17.66, 16.83, 18.25,
    17.75, 17.6, 17.7, 17.64, 17.53, 17.8, 17.53, 17.74, 16.64, 17.63, 17.75, 17.94,
    17.72, 18.0, 18.1, 17.88, 17.64, 18.28, 16.83, 17.72, 18.13, 17.6, 17.16, 18.5, 18.16,
    17.46, 17.46, 17.57, 17.74, 17.6, 17.55, 17.75, 17.27, 17.9, 17.83, 17.94, 18.03, 17.83, 18.16, 17.46,
];
const vexOy = [
    142.16, 143.08, 142.72, 144.19, 142.58, 143.94, 142.58, 142.18, 142.81, 141.56, 142.58, 142.01, 141.9, 143.15,
    142.98, 142.25, 143.42, 143.29, 141.8, 142.13, 141.91, 143.17, 142.05, 141.79, 142.83, 143.93,
    142.16, 142.01, 141.91, 142.44, 142.16, 142.35, 143.15, 141.28, 143.34, 144.0, 141.91, 142.08,
    141.71, 142.48, 141.97, 141.43, 141.85, 142.36, 142.1, 142.19, 142.05, 142.39, 142.78, 141.77, 141.63,
    141.4, 142.16, 142.52, 142.16, 141.79, 142.58, 141.85, 141.54, 141.97, 142.01, 141.57, 141.68, 141.85, 142.16, 141.23,
];
const vexOz = [
    152.0, 150.5, 150.78, 148.88, 152.0, 149.29, 150.76, 152.42, 150.39, 150.86, 150.83, 150.95, 150.9, 151.47,
    148.85, 150.8, 149.02, 148.94, 150.3, 150.03, 151.28, 148.9, 150.31, 150.28, 151.84, 148.21,
    150.72, 150.2, 150.56, 150.81, 150.08, 150.44, 149.14, 150.08, 151.61, 149.74, 151.06, 150.42,
    151.08, 150.83, 150.78, 150.69, 151.22, 151.28, 149.83, 151.22, 150.91, 151.76, 151.53, 151.25, 150.89,
    150.5, 150.61, 151.8, 151.08, 150.75, 150.47, 150.05, 151.19, 150.39, 151.67, 150.67, 151.02, 150.5, 150.75, 150.75,
];

const W = 1048;
const H = 787;
const FONT = '"Open Sans", "DejaVu Sans", sans-serif';

const toPoints = (days, vals) => days.map((d, i) => ({ x: d, y: vals[i] }));

// frame, inward ticks on all four sides, tick labels, titles and legend
const panelFrame = {
    id: "panelFrame",
    afterDraw(chart, args, opts) {
        const { ctx, chartArea: a } = chart;
        const xs = chart.scales.x;
        const ys = chart.scales.y;
        ctx.save();

        ctx.strokeStyle = "#1a1a1a";
        ctx.lineWidth = 1.5;
        ctx.beginPath();
        for (let v = xs.min; v <= xs.max; v += xMinorStep) {
            const px = xs.getPixelForValue(v);
            const len = xLabels.includes(v) ? 7 : 4;
            ctx.moveTo(px, a.bottom);
            ctx.lineTo(px, a.bottom - len);
            ctx.moveTo(px, a.top);
            ctx.lineTo(px, a.top + len);
        }
        for (let v = ys.min; v <= ys.max; v += 1) {
            const py = ys.getPixelForValue(v);
            const len = opts.ticks.includes(v) ? 7 : 4;
            ctx.moveTo(a.left, py);
            ctx.lineTo(a.left + len, py);
            ctx.moveTo(a.right, py);
            ctx.lineTo(a.right - len, py);
        }
        ctx.stroke();

        ctx.lineWidth = 2;
        ctx.strokeRect(a.left, a.top, a.right - a.left, a.bottom - a.top);

        // y tick labels, end labels pulled inside the frame
        ctx.fillStyle = "#111";
        ctx.font = `18px ${FONT}`;
        ctx.textAlign = "right";
        ctx.textBaseline = "alphabetic";
        opts.ticks.forEach((v) => {
            let py = ys.getPixelForValue(v);
            py = Math.min(Math.max(py, a.top + 8), a.bottom - 7);
            ctx.fillText(String(v), a.left - 8, py + 6.5);
        });

        // y title: O with italic subscript
        const cy = (a.top + a.bottom) / 2;
        ctx.save();
        ctx.translate(41, cy);
        ctx.rotate(-Math.PI / 2);
        ctx.textAlign = "left";
        const big = `19px ${FONT}`;
        const small = `italic 12px ${FONT}`;
        ctx.font = big;
        const wO = ctx.measureText("O").width;
        const rest = " (nT)";
        const wRest = ctx.measureText(rest).width;
        ctx.font = small;
        const wSub = ctx.measureText(opts.comp).width;
        let tx = -(wO + wSub + wRest) / 2;
        ctx.font = big;
        ctx.fillText("O", tx, 0);
        tx += wO;
        ctx.font = small;
        ctx.fillText(opts.comp, tx, 3);
        tx += wSub;
        ctx.font = big;
        ctx.fillText(rest, tx, 0);
        ctx.restore();

        // x tick labels and title under the bottom panel
        if (opts.xAxis) {
            ctx.textAlign = "center";
            ctx.font = `18px ${FONT}`;
            xLabels.forEach((v) => {
                ctx.fillText(String(v), xs.getPixelForValue(v), a.bottom + 21);
            });
            ctx.font = `19px ${FONT}`;
            ctx.fillText("Time (day)", (a.left + a.right) / 2, a.bottom + 42);
        }

        if (opts.legend) {
            const bx = 572;
            const by = a.top + 11;
            const bw = a.right - 11 - bx;
            const bh = 79;
            ctx.fillStyle = "#e5e5e5";
            ctx.fillRect(bx, by, bw, bh);
            ctx.strokeStyle = "#2a2a2a";
            ctx.lineWidth = 1.5;
            ctx.strokeRect(bx, by, bw, bh);

            ctx.font = `19px ${FONT}`;
            ctx.textAlign = "left";
            ctx.textBaseline = "middle";
            chart.data.datasets.forEach((ds, i) => {
                const ry = by + 15 + i * 24.5;
                ctx.fillStyle = ds.backgroundColor;
                Chart.helpers.drawPoint(
                    ctx,
                    {
                        pointStyle: ds.pointStyle,
                        radius: ds.pointStyle === "triangle" ? 7.5 : 5,
                        rotation: 0,
                        borderWidth: 0,
                    },
                    bx + 13,
                    ry + (ds.pointStyle === "triangle" ? 1 : 0)
                );
                ctx.fillText(ds.label, bx + 25, ry + 1);
            });
        }

        ctx.restore();
    },
};

const panels = [
    { id: "oxChart", comp: "X", wp: wpOx, ds: dsOx, vex: vexOx, ticks: oxTicks, top: 7, bottom: 246, legend: true },
    { id: "oyChart", comp: "Y", wp: wpOy, ds: dsOy, vex: vexOy, ticks: oyTicks, top: 253, bottom: 490 },
    { id: "ozChart", comp: "Z", wp: wpOz, ds: dsOz, vex: vexOz, ticks: ozTicks, top: 497, bottom: 736, xAxis: true },
];

panels.forEach((p) => {
    new Chart(document.getElementById(p.id), {
        type: "scatter",
        data: {
            datasets: [
                {
                    label: seriesNames[0],
                    data: toPoints(wpDay, p.wp),
                    backgroundColor: seriesColors[0],
                    pointStyle: "circle",
                    pointRadius: 3.8,
                    pointBorderWidth: 0,
                    clip: 0,
                    order: 3,
                },
                {
                    label: seriesNames[1],
                    data: toPoints(dsDay, p.ds),
                    backgroundColor: seriesColors[1],
                    pointStyle: "circle",
                    pointRadius: 3.8,
                    pointBorderWidth: 0,
                    clip: 0,
                    order: 2,
                },
                {
                    label: seriesNames[2],
                    data: toPoints(vexDay, p.vex),
                    backgroundColor: seriesColors[2],
                    pointStyle: "triangle",
                    pointRadius: 7.5,
                    pointBorderWidth: 0,
                    clip: 0,
                    order: 1,
                },
            ],
        },
        options: {
            responsive: false,
            animation: false,
            events: [],
            layout: {
                padding: { left: 79, right: W - 1034, top: p.top, bottom: H - p.bottom },
            },
            scales: {
                x: { type: "linear", min: 0, max: 90, display: false },
                y: { type: "linear", min: p.ticks[0], max: p.ticks[p.ticks.length - 1], display: false },
            },
            plugins: {
                legend: { display: false },
                tooltip: { enabled: false },
                panelFrame: { comp: p.comp, ticks: p.ticks, legend: !!p.legend, xAxis: !!p.xAxis },
            },
        },
        plugins: [panelFrame],
    });
});
</script>
</body>
</html>
